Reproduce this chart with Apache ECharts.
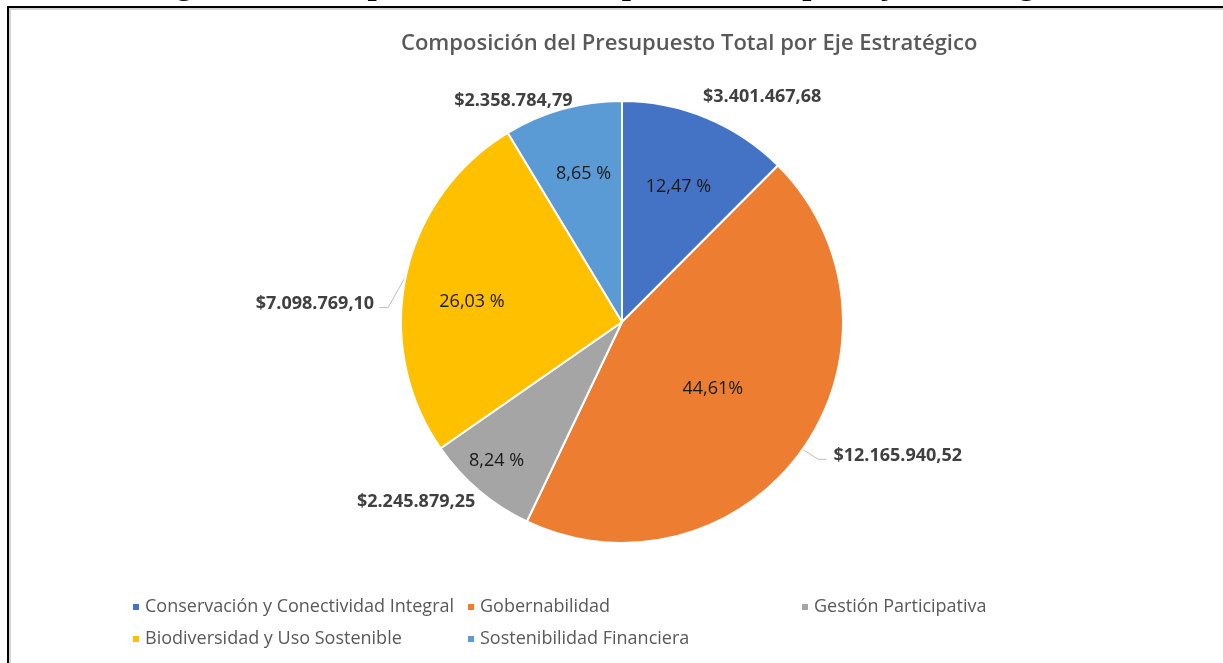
<!DOCTYPE html>
<html>
<head>
<meta charset="utf-8">
<script src="https://cdn.jsdelivr.net/npm/echarts@6/dist/echarts.min.js"></script>
<style>
  html, body { margin: 0; padding: 0; background: #ffffff; }
  #chart { width: 1223px; height: 663px; }
</style>
</head>
<body>
<div id="chart"></div>
<script>
// Presupuesto por eje estratégico
var categories = [
  'Conservación y Conectividad Integral',
  'Gobernabilidad',
  'Gestión Participativa',
  'Biodiversidad y Uso Sostenible',
  'Sostenibilidad Financiera'
];
var budgets = [3401467.68, 12165940.52, 2245879.25, 7098769.10, 2358784.79];
var sliceColors = ['#4472C4', '#ED7D31', '#A5A5A5', '#FFC000', '#5B9BD5'];
var caption = 'Figura 10. Composición del Presupuesto Total por Eje Estratégico';
var chartTitle = 'Composición del Presupuesto Total por Eje Estratégico';

// label nudges (px) relative to the library's default label placement
var pctNudge = [[13, -30], [-2, 1], [-52, 52], [-39, 3], [-8, -39]];
var pctSpace = [' %', '%', ' %', ' %', ' %'];
var moneyNudge = [[-23, -10], [6, 0], [19, 2], [-5, 30], [28, 3]];
var moneyLeader = [false, true, false, true, false];

var total = budgets.reduce(function (a, b) { return a + b; }, 0);

function money(v) {
  var parts = v.toFixed(2).split('.');
  var intPart = parts[0].replace(/\B(?=(\d{3})+(?!\d))/g, '.');
  return '$' + intPart + ',' + parts[1];
}
function pct(v, i) {
  return (v / total * 100).toFixed(2).replace('.', ',') + pctSpace[i];
}

var pieData = categories.map(function (name, i) {
  return { name: name, value: budgets[i], itemStyle: { color: sliceColors[i] } };
});
var labelData = categories.map(function (name, i) {
  return { name: name, value: budgets[i], labelLine: { show: moneyLeader[i] } };
});

var legendSlots = [[131, 598], [466, 598], [800, 598], [131, 630], [466, 630]];

var chart = echarts.init(document.getElementById('chart'), null, { renderer: 'canvas' });

chart.setOption({
  animation: false,
  backgroundColor: '#ffffff',
  title: {
    text: chartTitle,
    left: 396,
    top: 28,
    textStyle: { fontFamily: 'Open Sans', fontSize: 22, fontWeight: 600, color: '#595959' }
  },
  legend: categories.map(function (name, i) {
    return {
      data: [name],
      left: legendSlots[i][0],
      top: legendSlots[i][1],
      padding: 0,
      icon: 'rect',
      itemWidth: 8,
      itemHeight: 8,
      selectedMode: false,
      textStyle: { fontFamily: 'Open Sans', fontSize: 18, color: '#595959' }
    };
  }),
  graphic: [
    {
      // page caption running above the frame; only its lowest strokes fall inside the page
      type: 'text',
      x: 611,
      y: -15,
      style: {
        text: caption,
        font: 'bold 33px "Liberation Serif"',
        fill: '#000000',
        align: 'center',
        verticalAlign: 'middle'
      },
      z: 10
    },
    {
      type: 'polyline',
      shape: { points: [[10, 700], [10, 9], [1230, 9]] },
      style: { stroke: '#d4d4d4', lineWidth: 2, fill: null },
      z: 11
    },
    {
      type: 'polyline',
      shape: { points: [[8, 700], [8, 7], [1230, 7]] },
      style: { stroke: '#000000', lineWidth: 2, fill: null },
      z: 12
    }
  ],
  series: [
    {
      type: 'pie',
      center: [622, 322],
      radius: [0, 221],
      startAngle: 90,
      clockwise: true,
      silent: true,
      data: pieData,
      itemStyle: { borderColor: '#ffffff', borderWidth: 2 },
      label: {
        show: true,
        position: 'inside',
        formatter: function (p) { return pct(p.value, p.dataIndex); },
        fontFamily: 'Open Sans',
        fontSize: 18,
        color: '#1a1a1a'
      },
      labelLayout: function (p) {
        return { dx: pctNudge[p.dataIndex][0], dy: pctNudge[p.dataIndex][1] };
      },
      labelLine: { show: false }
    },
    {
      type: 'pie',
      center: [622, 322],
      radius: [0, 221],
      startAngle: 90,
      clockwise: true,
      silent: true,
      data: labelData,
      itemStyle: { color: 'rgba(0,0,0,0)', borderWidth: 0 },
      label: {
        show: true,
        position: 'outside',
        formatter: function (p) { return money(p.value); },
        fontFamily: 'Open Sans',
        fontSize: 18,
        fontWeight: 'bold',
        color: '#404040'
      },
      labelLayout: function (p) {
        var i = p.dataIndex;
        var n = moneyNudge[i];
        var out = { dx: n[0], dy: n[1] };
        if (moneyLeader[i] && p.labelLinePoints) {
          // leader: short diagonal from the slice edge, then a horizontal tick toward the text
          var r = p.labelRect;
          var x = r.x + n[0];
          var cy = r.y + n[1] + r.height / 2;
          var start = p.labelLinePoints[0];
          if (p.align === 'right') {
            out.labelLinePoints = [start, [x + r.width + 14, cy + 4], [x + r.width + 5, cy + 4]];
          } else {
            out.labelLinePoints = [start, [x - 15, cy + 3], [x - 7, cy + 3]];
          }
        }
        return out;
      },
      labelLine: { show: true, length: 12, length2: 10, lineStyle: { color: '#bfbfbf', width: 1 } }
    }
  ]
});
</script>
</body>
</html>
